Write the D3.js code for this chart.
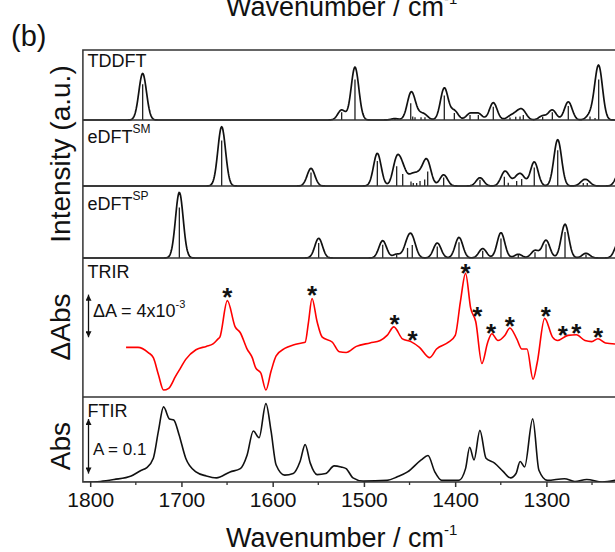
<!DOCTYPE html>
<html>
<head>
<meta charset="utf-8">
<script src="https://cdn.jsdelivr.net/npm/d3@7"></script>
<style>
  body { margin: 0; background: #fff; }
  svg { display: block; }
  text { font-family: "Liberation Sans", Arial, Helvetica, sans-serif; fill: #111; }
</style>
</head>
<body>
<script>
// ---- data ----
// calculated stick spectra: [wavenumber, relative intensity (fraction of panel height)]
const tddftSticks = [
  [1742.5, 0.51], [1524.4, 0.11], [1509.8, 0.58], [1466, 0.015], [1448.7, 0.24], [1446.5, 0.05],
  [1444, 0.04], [1437.4, 0.04], [1433.1, 0.04], [1411.9, 0.35], [1400.9, 0.1], [1383.7, 0.07],
  [1374.6, 0.07], [1358.2, 0.19], [1339.9, 0.035], [1333.6, 0.045], [1328.9, 0.05], [1325.3, 0.07],
  [1304.1, 0.045], [1293.5, 0.11], [1276, 0.2], [1252.2, 0.05], [1246.7, 0.03], [1242.7, 0.58]
];
const smSticks = [
  [1655.9, 0.69], [1558, 0.205], [1485.3, 0.38], [1464.1, 0.3], [1457.5, 0.18], [1448.4, 0.07],
  [1445.9, 0.045], [1442.2, 0.045], [1438.5, 0.075], [1433.4, 0.1], [1430.1, 0.22], [1412.6, 0.13],
  [1372.8, 0.096], [1346.1, 0.14], [1341.8, 0.05], [1332.6, 0.075], [1327.1, 0.105], [1313.3, 0.28],
  [1287.6, 0.54], [1259.6, 0.045], [1255.2, 0.045], [1220, 0.15]
];
const spSticks = [
  [1702.3, 0.7], [1549.6, 0.21], [1479.4, 0.185], [1464.1, 0.04], [1452.2, 0.14], [1447, 0.18],
  [1419.6, 0.16], [1395.8, 0.22], [1369.8, 0.1], [1349.8, 0.27], [1330.8, 0.04], [1312.5, 0.08],
  [1300.4, 0.19], [1279.6, 0.36], [1256.6, 0.05], [1221, 0.16]
];

// TRIR difference spectrum: [wavenumber, dA / 10^-3]
const trir = [
  [1760.7, -0.22], [1747.6, -0.22], [1736.4, -0.71], [1730.8, -1.19], [1725.2, -2.79], [1719.6, -4.23],
  [1714.0, -4.07], [1706.5, -2.95], [1700.9, -2.15], [1695.3, -1.35], [1684.1, -0.45], [1672.8, -0.13],
  [1665.4, 0.10], [1659.8, 0.58], [1657.9, 0.74], [1649.7, 4.17], [1641.1, 1.70], [1635.5, 1.15],
  [1628.0, -0.38], [1622.4, -1.19], [1618.6, -2.15], [1613.0, -2.63], [1607.4, -4.23], [1601.8, -2.47],
  [1596.2, -1.03], [1586.8, -0.32], [1577.5, 0.0], [1568.1, 0.19], [1564.4, 0.26], [1560.7, 2.18],
  [1556.9, 4.36], [1551.3, 2.18], [1545.7, 0.74], [1534.5, 0.26], [1527.0, -0.64], [1519.5, -0.71],
  [1508.3, -0.13], [1493.3, 0.19], [1482.1, 0.42], [1474.6, 0.90], [1467.2, 1.70], [1457.8, 0.58],
  [1448.5, 0.32], [1439.1, -0.22], [1427.9, -1.19], [1420.4, -0.38], [1407.3, 0.26], [1399.9, 0.90],
  [1394.2, 4.10], [1388.6, 6.73], [1383.0, 3.46], [1377.4, 2.18], [1370.7, -1.73], [1364.3, 0.26],
  [1359.8, 1.06], [1353.1, 0.42], [1345.6, 0.90], [1340.0, 1.60], [1332.5, 0.58], [1326.9, -0.38],
  [1321.3, -0.38], [1314.6, -3.21], [1310.1, -1.67], [1301.9, 2.50], [1293.3, 0.74], [1287.7, 0.42],
  [1276.4, 0.90], [1267.1, 0.96], [1257.7, 0.42], [1250.3, 0.32], [1243.5, 0.58], [1235.3, 0.19],
  [1224.8, 0.10]
];
// asterisks marking TRIR bands: [wavenumber, dA / 10^-3]
const trirMarks = [
  [1649.7, 5.06], [1556.9, 5.22], [1466.4, 2.5], [1446.6, 1.06], [1388.6, 7.37], [1375.6, 3.3],
  [1360.6, 1.7], [1340.0, 2.34], [1300.7, 3.3], [1282.0, 1.54], [1267.1, 1.7], [1243.5, 1.28]
];

// FTIR absorbance: [wavenumber, A]
const ftir = [
  [1807.5, 0.0013], [1788.8, 0.0025], [1773.8, 0.006], [1755.1, 0.0125], [1743.9, 0.023], [1738.3, 0.0275],
  [1730.8, 0.045], [1725.2, 0.095], [1719.6, 0.139], [1713.2, 0.117], [1708.4, 0.115], [1702.8, 0.089],
  [1695.3, 0.045], [1684.1, 0.02], [1672.8, 0.0125], [1661.6, 0.009], [1646.7, 0.02], [1635.5, 0.026],
  [1628.0, 0.051], [1621.2, 0.095], [1614.9, 0.0825], [1607.4, 0.145], [1601.8, 0.095], [1596.2, 0.0325],
  [1586.8, 0.014], [1577.5, 0.017], [1570.0, 0.039], [1564.4, 0.07], [1558.8, 0.036], [1551.3, 0.015],
  [1541.8, 0.017], [1532.6, 0.031], [1525.1, 0.029], [1519.5, 0.026], [1512.0, 0.009], [1500.8, 0.003],
  [1474.6, 0.0044], [1463.4, 0.011], [1452.2, 0.02], [1437.2, 0.042], [1429.8, 0.05], [1422.3, 0.02],
  [1414.8, 0.0044], [1396.1, 0.0044], [1388.6, 0.026], [1384.1, 0.065], [1379.3, 0.042], [1372.9, 0.096],
  [1366.2, 0.045], [1356.8, 0.036], [1347.5, 0.021], [1339.3, 0.009], [1333.3, 0.017], [1328.8, 0.039],
  [1323.9, 0.029], [1315.0, 0.117], [1308.2, 0.023], [1298.9, 0.0044], [1280.2, 0.0075], [1268.9, 0.0025],
  [1255.8, 0.006], [1238.8, 0.0013], [1224.8, 0.0044]
];

const majorTicks = [1800, 1700, 1600, 1500, 1400, 1300];
const minorTicks = [1750, 1650, 1550, 1450, 1350, 1250];

const trirScaleBar = 4;     // dA = 4x10^-3
const ftirScaleBar = 0.1;   // A = 0.1

// ---- layout ----
const W = 615, H = 552;
const x = d3.scaleLinear().domain([1800, 1300]).range([90.2, 546.4]);
const frameL = x(1808), frameR = x(1180);
const bounds = [50, 120, 186, 258, 397, 482];

const svg = d3.select("body").append("svg")
  .attr("width", W).attr("height", H)
  .attr("viewBox", [0, 0, W, H]);

const defs = svg.append("defs");
defs.append("clipPath").attr("id", "plotClip")
  .append("rect")
  .attr("x", frameL).attr("y", bounds[0])
  .attr("width", frameR - frameL).attr("height", bounds[5] - bounds[0]);

defs.append("marker")
  .attr("id", "arrowhead").attr("viewBox", "0 -5 10 10")
  .attr("refX", 10).attr("refY", 0)
  .attr("markerUnits", "userSpaceOnUse")
  .attr("markerWidth", 8).attr("markerHeight", 6)
  .attr("orient", "auto-start-reverse")
  .append("path").attr("d", "M0,-5L10,0L0,5Z").attr("fill", "#111");

const plot = svg.append("g").attr("clip-path", "url(#plotClip)");

// ---- calculated spectra: sticks + gaussian broadened envelope ----
const sigma = 4.2, envScale = 1.3;
const grid = d3.range(1812, 1176, -0.5);
const envelope = sticks => grid.map(w => [
  w, envScale * d3.sum(sticks, s => s[1] * Math.exp(-((w - s[0]) ** 2) / (2 * sigma * sigma)))
]);

const calcPanels = [
  { sticks: tddftSticks, top: bounds[0], bottom: bounds[1] },
  { sticks: smSticks, top: bounds[1], bottom: bounds[2] },
  { sticks: spSticks, top: bounds[2], bottom: bounds[3] }
];

calcPanels.forEach(p => {
  const y = d3.scaleLinear().domain([0, 1]).range([p.bottom, p.top]);
  const g = plot.append("g");
  g.selectAll("line").data(p.sticks).join("line")
    .attr("x1", d => x(d[0])).attr("x2", d => x(d[0]))
    .attr("y1", y(0)).attr("y2", d => y(d[1]))
    .attr("stroke", "#222").attr("stroke-width", 1.3);
  g.append("path")
    .datum(envelope(p.sticks))
    .attr("fill", "none").attr("stroke", "#111").attr("stroke-width", 1.7)
    .attr("d", d3.line().x(d => x(d[0])).y(d => y(d[1])));
});

// ---- TRIR ----
const yTrir = d3.scaleLinear().domain([0, 4]).range([345, 302.4]);
plot.append("path")
  .datum(trir)
  .attr("fill", "none").attr("stroke", "#ff0000").attr("stroke-width", 1.6)
  .attr("stroke-linejoin", "round")
  .attr("d", d3.line().x(d => x(d[0])).y(d => yTrir(d[1])).curve(d3.curveMonotoneX));

plot.append("g").selectAll("text").data(trirMarks).join("text")
  .attr("x", d => x(d[0])).attr("y", d => yTrir(d[1]) + 15)
  .attr("text-anchor", "middle").attr("font-size", 26).attr("font-weight", "bold")
  .text("*");

// ---- FTIR ----
const yFtir = d3.scaleLinear().domain([0, 0.1]).range([482.8, 428.2]);
plot.append("path")
  .datum(ftir)
  .attr("fill", "none").attr("stroke", "#111").attr("stroke-width", 1.6)
  .attr("d", d3.line().x(d => x(d[0])).y(d => yFtir(d[1])).curve(d3.curveMonotoneX));

// ---- frames ----
const frames = svg.append("g").attr("fill", "none").attr("stroke", "#333").attr("stroke-width", 1.5);
frames.append("rect")
  .attr("x", frameL).attr("y", bounds[0])
  .attr("width", frameR - frameL).attr("height", bounds[5] - bounds[0]);
frames.selectAll("line").data(bounds.slice(1, 5)).join("line")
  .attr("x1", frameL).attr("x2", frameR).attr("y1", d => d).attr("y2", d => d);

// ---- x axis ----
const axis = svg.append("g").attr("transform", `translate(0,${bounds[5]})`)
  .call(d3.axisBottom(x).tickValues(majorTicks).tickSize(5).tickPadding(5).tickFormat(d3.format("d")));
axis.select(".domain").remove();
axis.selectAll(".tick line").attr("stroke", "#333").attr("stroke-width", 1.5);
axis.selectAll(".tick text").attr("font-size", 21).attr("fill", "#111")
  .attr("font-family", "\"Liberation Sans\", Arial, sans-serif");
svg.append("g").selectAll("line").data(minorTicks).join("line")
  .attr("x1", d => x(d)).attr("x2", d => x(d))
  .attr("y1", bounds[5]).attr("y2", bounds[5] + 3)
  .attr("stroke", "#333").attr("stroke-width", 1.3);

// ---- scale bars ----
const barX = 88.5;
svg.append("line")
  .attr("x1", barX).attr("x2", barX)
  .attr("y1", yTrir(0.73)).attr("y2", yTrir(0.73 + trirScaleBar))
  .attr("stroke", "#111").attr("stroke-width", 1.3)
  .attr("marker-start", "url(#arrowhead)").attr("marker-end", "url(#arrowhead)");
svg.append("line")
  .attr("x1", barX).attr("x2", barX)
  .attr("y1", yFtir(0.0169)).attr("y2", yFtir(0.0169 + ftirScaleBar))
  .attr("stroke", "#111").attr("stroke-width", 1.3)
  .attr("marker-start", "url(#arrowhead)").attr("marker-end", "url(#arrowhead)");

const trirBarText = svg.append("text").attr("x", 93).attr("y", 317).attr("font-size", 18);
trirBarText.append("tspan").text("\u0394A = 4x10");
trirBarText.append("tspan").attr("dy", -9).attr("font-size", 11).text("-3");
svg.append("text").attr("x", 93).attr("y", 455).attr("font-size", 17).text("A = 0.1");

// ---- panel labels ----
const labelX = 87.5;
svg.append("text").attr("x", labelX).attr("y", 66.5).attr("font-size", 18).text("TDDFT");
const sm = svg.append("text").attr("x", labelX).attr("y", 143).attr("font-size", 18);
sm.append("tspan").text("eDFT");
sm.append("tspan").attr("dy", -10).attr("font-size", 12).text("SM");
const sp = svg.append("text").attr("x", labelX).attr("y", 209.5).attr("font-size", 18);
sp.append("tspan").text("eDFT");
sp.append("tspan").attr("dy", -10).attr("font-size", 12).text("SP");
svg.append("text").attr("x", labelX).attr("y", 277.5).attr("font-size", 18).text("TRIR");
svg.append("text").attr("x", labelX).attr("y", 417.3).attr("font-size", 18).text("FTIR");

// ---- axis titles ----
const yTitles = [
  { text: "Intensity (a.u.)", cy: 154 },
  { text: "\u0394Abs", cy: 327 },
  { text: "Abs", cy: 446 }
];
svg.append("g").selectAll("text").data(yTitles).join("text")
  .attr("transform", d => `translate(70,${d.cy}) rotate(-90)`)
  .attr("text-anchor", "middle").attr("font-size", 28)
  .text(d => d.text);

const addXTitle = (baseline) => {
  const t = svg.append("text").attr("x", 226).attr("y", baseline).attr("font-size", 27);
  t.append("tspan").text("Wavenumber / cm");
  t.append("tspan").attr("dy", -12).attr("font-size", 15).text("-1");
};
addXTitle(547);
addXTitle(16);   // title of the panel above, cut by the top edge as in the figure

svg.append("text").attr("x", 11).attr("y", 46).attr("font-size", 29).text("(b)");
</script>
</body>
</html>
